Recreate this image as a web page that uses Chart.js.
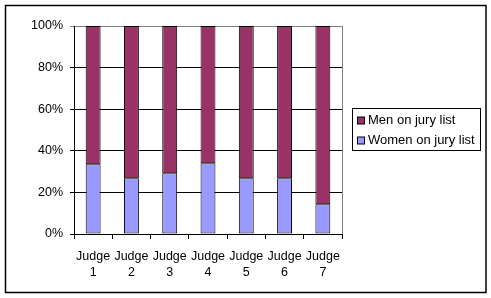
<!DOCTYPE html>
<html>
<head>
<meta charset="utf-8">
<script src="https://cdn.jsdelivr.net/npm/chart.js@4/dist/chart.umd.min.js"></script>
<style>
    body { margin: 0; background: #fff; }
    .chart-box { width: 491px; height: 298px; position: relative; }
</style>
</head>
<body>
<div class="chart-box"><canvas id="jury-chart"></canvas></div>
<script>
const judges = [['Judge', '1'], ['Judge', '2'], ['Judge', '3'], ['Judge', '4'], ['Judge', '5'], ['Judge', '6'], ['Judge', '7']];
const womenShare = [33.5, 26.8, 29.2, 34, 26.8, 26.8, 14.3];
const menShare = [66.5, 73.2, 70.8, 66, 73.2, 73.2, 85.7];
const yTicks = [0, 20, 40, 60, 80, 100];

const FONT = { family: 'Arial, "Liberation Sans", sans-serif', size: 12.5 };

// outer frame, grey plot border on the right, boxed legend
const framePlugin = {
    id: 'frame',
    afterDraw(chart) {
        const c = chart.ctx;
        const area = chart.chartArea;
        c.save();
        c.strokeStyle = '#808080';
        c.lineWidth = 1;
        c.beginPath();
        c.moveTo(Math.round(area.right) + 0.5, area.top);
        c.lineTo(Math.round(area.right) + 0.5, area.bottom);
        c.stroke();

        c.strokeStyle = '#000';
        c.lineWidth = 1.5;
        c.strokeRect(5.5, 5.5, 480.5, 287);

        // legend
        c.lineWidth = 1;
        c.strokeRect(352.5, 108.5, 128, 42);
        c.font = `13px ${FONT.family}`;
        c.textBaseline = 'middle';
        const rows = chart.data.datasets.slice().reverse();
        rows.forEach((ds, i) => {
            const y = 120.5 + i * 20;
            c.fillStyle = ds.backgroundColor;
            c.fillRect(357, y - 3.5, 7, 7);
            c.strokeRect(357.5, y - 3.5, 7, 7);
            c.fillStyle = '#000';
            c.fillText(ds.label, 368, y);
        });
        c.restore();
    }
};

new Chart(document.getElementById('jury-chart'), {
    type: 'bar',
    data: {
        labels: judges,
        datasets: [
            {
                label: 'Women on jury list',
                data: womenShare,
                backgroundColor: '#9999FF',
                borderColor: '#000',
                borderWidth: 1,
                borderSkipped: false
            },
            {
                label: 'Men on jury list',
                data: menShare,
                backgroundColor: '#993366',
                borderColor: '#000',
                borderWidth: 1,
                borderSkipped: false
            }
        ]
    },
    options: {
        responsive: true,
        maintainAspectRatio: false,
        animation: false,
        devicePixelRatio: 1,
        layout: { padding: { left: 0, right: 149, top: 26, bottom: 0 } },
        datasets: { bar: { categoryPercentage: 1, barPercentage: 0.39 } },
        plugins: { legend: { display: false }, tooltip: { enabled: false } },
        scales: {
            x: {
                stacked: true,
                afterFit: (scale) => { scale.height = 64; },
                grid: { drawOnChartArea: false, offset: true, tickLength: 5, color: '#000' },
                border: { color: '#000' },
                ticks: { color: '#000', font: { ...FONT, lineHeight: 1.3 }, padding: 9, maxRotation: 0, autoSkip: false }
            },
            y: {
                stacked: true,
                min: 0,
                max: 100,
                afterFit: (scale) => { scale.width = 74; },
                afterBuildTicks: (scale) => { scale.ticks = yTicks.map(v => ({ value: v })); },
                grid: {
                    color: (ctx) => ctx.tick && ctx.tick.value === 100 ? '#808080' : '#000',
                    tickLength: 4
                },
                border: { color: '#000' },
                ticks: { color: '#000', font: FONT, padding: 7, callback: (v) => v + '%' }
            }
        }
    },
    plugins: [framePlugin]
});
</script>
</body>
</html>
